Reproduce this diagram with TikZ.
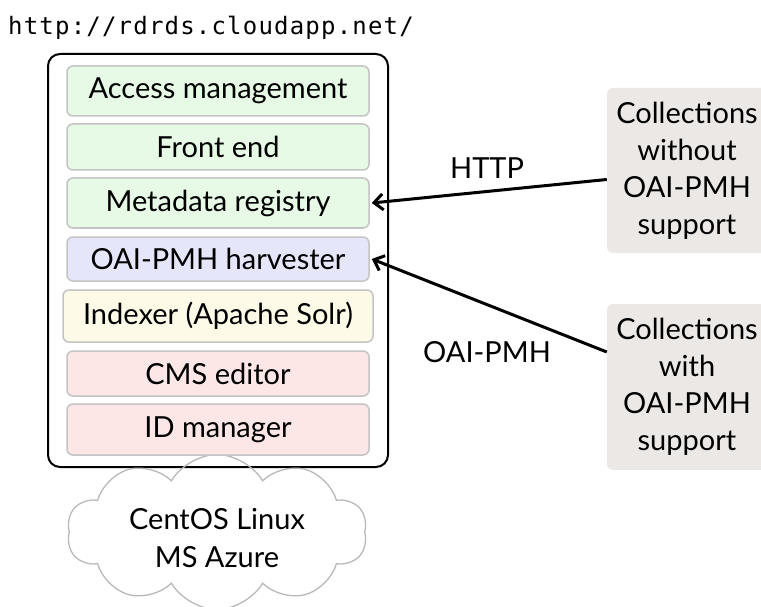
\documentclass[tikz,border=0pt]{standalone}
\usepackage{fontspec}
\setmainfont{Lato}
\newfontfamily\urlfont[LetterSpace=5]{DejaVu Sans Mono}
\usetikzlibrary{shapes.symbols,arrows.meta,positioning}
\definecolor{cgreen}{HTML}{E6FAE6}
\definecolor{cblue}{HTML}{E6E6FA}
\definecolor{cyellow}{HTML}{FDFBE8}
\definecolor{cred}{HTML}{FCE6E6}
\definecolor{cgrayfill}{HTML}{ECE8E6}
\definecolor{cborder}{HTML}{C4C4C4}
\definecolor{ccloud}{HTML}{B8B8B8}
\tikzset{
  comp/.style={draw=cborder, line width=1.5pt, rounded corners=6pt, minimum width=302pt, inner sep=0pt, font=\fontsize{29}{33}\selectfont},
  coll/.style={fill=cgrayfill, rounded corners=6pt, text width=155pt, align=center, minimum width=160pt, inner sep=0pt, font=\fontsize{29}{37}\selectfont},
  flow/.style={line width=3pt, -{Straight Barb[length=9pt,width=16pt,line width=3pt]}},
  lbl/.style={font=\fontsize{29}{33}\selectfont, inner sep=0pt}
}
\begin{document}
\begin{tikzpicture}[x=1pt,y=1pt]
\path[use as bounding box, clip] (0,0) rectangle (761,-607);
% outer box
\node[draw=black, fill=white, line width=2pt, rounded corners=12pt, minimum width=340pt, minimum height=413pt, inner sep=0pt] (server) at (218,-260.5) {};
% cloud
\node[cloud, draw=ccloud, line width=1.3pt, cloud puffs=10, cloud puff arc=120, cloud ignores aspect, minimum width=300pt, minimum height=155pt, inner sep=0pt] (cloud) at (217,-532) {};
\node[align=center, inner sep=0pt, font=\fontsize{29}{38}\selectfont] (cloudtext) at (217,-538) {CentOS Linux\\MS Azure};
% url
\node[anchor=base west, inner sep=0pt, font=\urlfont\fontsize{24}{28}\selectfont] (url) at (8,-35) {http://rdrds.cloudapp.net/};
% components
\node[comp, fill=cgreen, minimum height=50pt] (acc) at (218,-91) {Access management};
\node[comp, fill=cgreen, minimum height=46pt] (front) at (218,-147) {Front end};
\node[comp, fill=cgreen, minimum height=50pt] (meta) at (218,-203) {Metadata registry};
\node[comp, fill=cblue, minimum height=44pt] (harv) at (218,-259) {OAI-PMH harvester};
\node[comp, fill=cyellow, minimum height=52pt, minimum width=310pt] (idx) at (218,-316) {Indexer (Apache Solr)};
\node[comp, fill=cred, minimum height=45pt] (cms) at (218,-373.5) {CMS editor};
\node[comp, fill=cred, minimum height=51pt] (idm) at (218,-429.5) {ID manager};
% collections
\node[coll, minimum height=165pt] (c1) at (687,-170.5) {Collections\\without\\OAI-PMH\\support};
\node[coll, minimum height=166pt] (c2) at (687,-387) {Collections\\with\\OAI-PMH\\support};
% arrows
\draw[flow] ([yshift=-9pt]c1.west) -- ([xshift=2pt]meta.east);
\draw[flow] ([yshift=35pt]c2.west) -- ([xshift=2pt]harv.east);
\node[lbl] (http) at (487,-168) {HTTP};
\node[lbl] (oai) at (487,-352) {OAI-PMH};
\end{tikzpicture}
\end{document}
